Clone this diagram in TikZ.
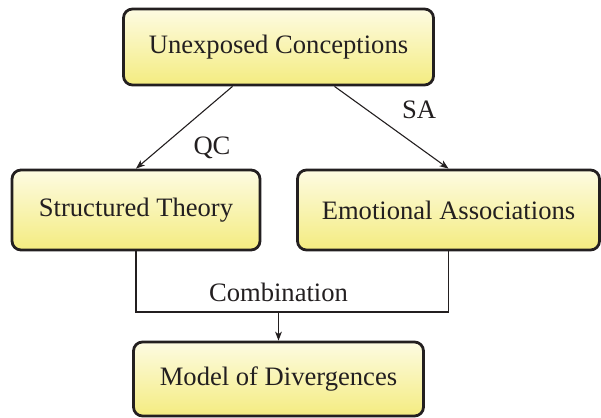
\documentclass[tikz,border=0pt]{standalone}
\usepackage{fontspec}
\setmainfont{Liberation Serif}
\usepackage{tikz}
\usetikzlibrary{positioning}
\usetikzlibrary{arrows.meta}
\usetikzlibrary{calc}

\definecolor{boxtop}{RGB}{253,251,226}
\definecolor{boxbot}{RGB}{244,236,128}
\definecolor{inkgray}{RGB}{35,31,32}

\begin{document}
\begin{tikzpicture}[
            x = 0.5pt, y = -0.5pt, % pixel units
            > = {Stealth[length=4.5pt, width=3.4pt, inset=1.3pt]}, % arrow head style
            semithick, % line style
            font = \fontsize{13.3}{16}\selectfont,
            color = inkgray
            ]

        \tikzstyle{concept}=[
            draw = inkgray,
            line width = 1.4pt,
            rounded corners = 4.5pt,
            top color = boxtop,
            bottom color = boxbot,
            text = inkgray,
            inner sep = 0pt
        ]
        \tikzstyle{link}=[line width = 0.55pt]

        \useasboundingbox (0,0) rectangle (601,418);

	% concepts
	\node[concept, minimum width = 155pt, minimum height = 38pt] (UC) at (278.5,47) {Unexposed Conceptions};
	\node[concept, minimum width = 124pt, minimum height = 40pt] (ST) at (136,210) {Structured Theory};
	\node[concept, minimum width = 151pt, minimum height = 40pt] (EA) at (448.5,210) {Emotional Associations};
	\node[concept, minimum width = 145pt, minimum height = 37pt] (MD) at (278.5,379) {Model of Divergences};

        % links
         \draw[link, ->] ([xshift = -23pt]UC.south) -- (ST.north);
         \draw[link, ->] ([xshift = 28pt]UC.south) -- (EA.north);
         \node (QC) at (212,148) {QC};
         \node (SA) at (419,110) {SA};

         \coordinate (J) at (278.5,312);
         \draw[link] (ST.south) |- (J) -| (EA.south);
         \draw[link, ->] (J) -- (MD.north);
         \node (C) at (278.5,292) {Combination};

  \end{tikzpicture}
\end{document}
